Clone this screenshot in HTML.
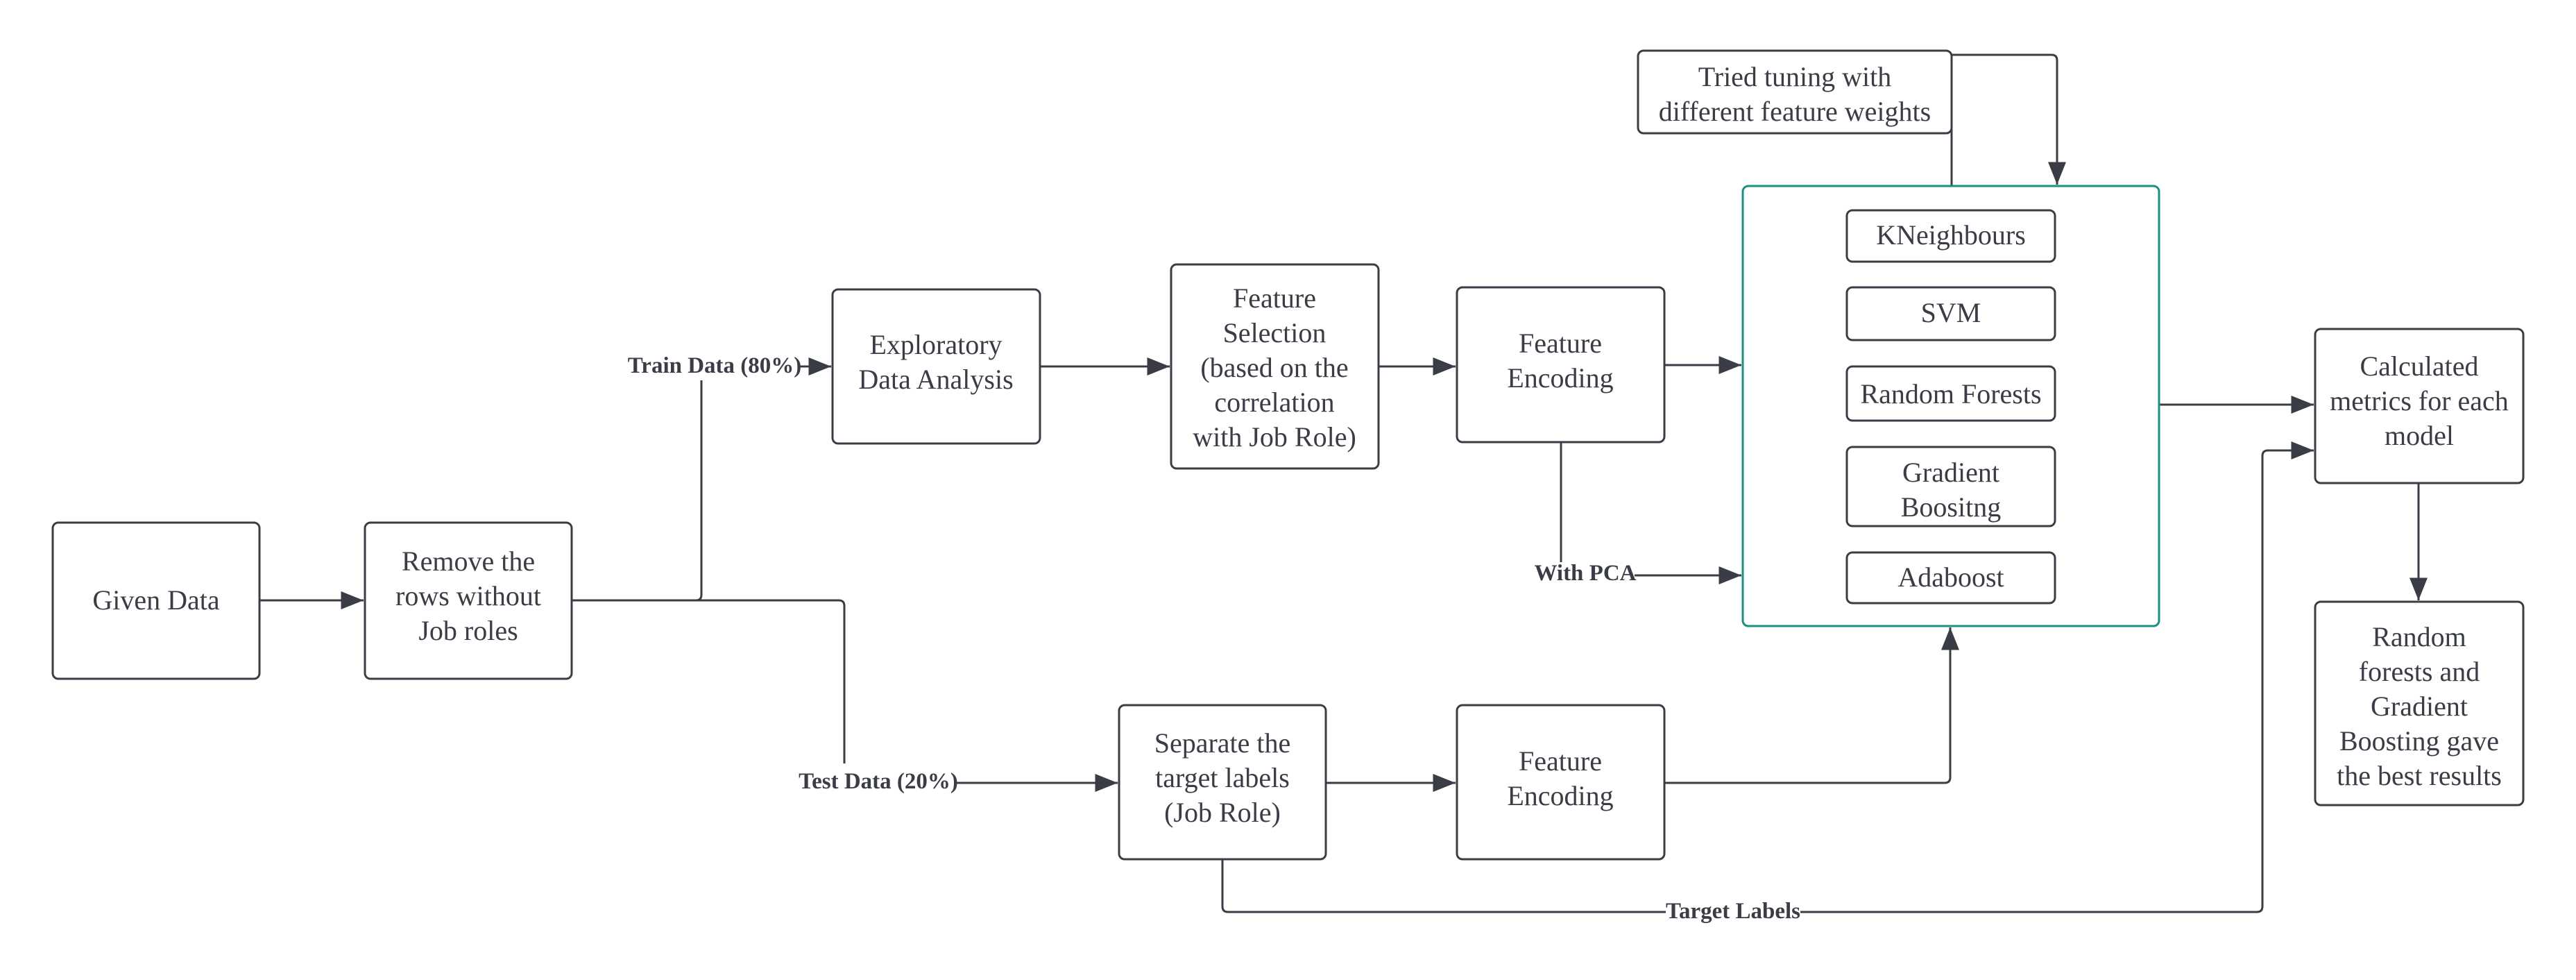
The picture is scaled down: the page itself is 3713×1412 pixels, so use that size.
<!DOCTYPE html>
<html><head><meta charset="utf-8"><style>
html,body{margin:0;padding:0;background:#fff;}
svg{display:block;}
.b{fill:#fff;stroke:#3a3d45;stroke-width:3;}
.t{font-family:"Liberation Serif",serif;font-size:40px;fill:#3a3d45;text-anchor:middle;}
.l{font-family:"Liberation Serif",serif;font-size:33px;font-weight:bold;fill:#3a3d45;text-anchor:middle;}
.c{fill:none;stroke:#3a3d45;stroke-width:3;}
</style></head><body>
<svg width="3713" height="1412" viewBox="0 0 3713 1412" xmlns="http://www.w3.org/2000/svg">
<defs>
<marker id="ah" viewBox="0 0 10 8" refX="10" refY="4" markerWidth="34" markerHeight="26" orient="auto" markerUnits="userSpaceOnUse"><path d="M0,0 L10,4 L0,8 z" fill="#3a3d45"/></marker></defs>

<path class="c" d="M374,865 H524" marker-end="url(#ah)"/>
<path class="c" d="M824,865 H1003 q8,0 8,-8 V548"/>
<path class="c" d="M1152,528 H1198" marker-end="url(#ah)"/>
<path class="c" d="M1003,865 H1209 q8,0 8,8 V1100"/>
<path class="c" d="M1378,1128 H1611" marker-end="url(#ah)"/>
<path class="c" d="M1499,528 H1686" marker-end="url(#ah)"/>
<path class="c" d="M1987,528 H2098" marker-end="url(#ah)"/>
<path class="c" d="M2399,526 H2510" marker-end="url(#ah)"/>
<path class="c" d="M2250,637 V810"/>
<path class="c" d="M2356,829 H2510" marker-end="url(#ah)"/>
<path class="c" d="M1911,1128 H2098" marker-end="url(#ah)"/>
<path class="c" d="M2399,1128 H2803 q8,0 8,-8 V904" marker-end="url(#ah)"/>
<path class="c" d="M3112,583 H3335" marker-end="url(#ah)"/>
<path class="c" d="M3486,697 V865" marker-end="url(#ah)"/>
<path class="c" d="M2813,268 V79 H2957 q8,0 8,8 V266" marker-end="url(#ah)"/>
<path class="c" d="M1762,1238 V1306 q0,8 8,8 H2401"/>
<path class="c" d="M2595,1314 H3253 q8,0 8,-8 V657 q0,-8 8,-8 H3335" marker-end="url(#ah)"/>

<rect class="b" x="76" y="753" width="298" height="225" rx="8"/>
<text class="t" x="225" y="878">Given Data</text>
<rect class="b" x="526" y="753" width="298" height="225" rx="8"/>
<text class="t" x="675" y="822">Remove the</text><text class="t" x="675" y="872">rows without</text><text class="t" x="675" y="922">Job roles</text>
<rect class="b" x="1200" y="417" width="299" height="222" rx="8"/>
<text class="t" x="1349" y="510">Exploratory</text><text class="t" x="1349" y="560">Data Analysis</text>
<rect class="b" x="1688" y="381" width="299" height="294" rx="8"/>
<text class="t" x="1837" y="443">Feature</text><text class="t" x="1837" y="493">Selection</text><text class="t" x="1837" y="543">(based on the</text><text class="t" x="1837" y="593">correlation</text><text class="t" x="1837" y="643">with Job Role)</text>
<rect class="b" x="2100" y="414" width="299" height="223" rx="8"/>
<text class="t" x="2249" y="508">Feature</text><text class="t" x="2249" y="558">Encoding</text>
<rect x="2512" y="268" width="600" height="634" rx="8" fill="none" stroke="#1a9080" stroke-width="3"/>
<rect class="b" x="2662" y="303" width="300" height="74" rx="8"/><text class="t" x="2812" y="352">KNeighbours</text>
<rect class="b" x="2662" y="414" width="300" height="76" rx="8"/><text class="t" x="2812" y="464">SVM</text>
<rect class="b" x="2662" y="528" width="300" height="78" rx="8"/><text class="t" x="2812" y="581">Random Forests</text>
<rect class="b" x="2662" y="644" width="300" height="114" rx="8"/><text class="t" x="2812" y="694">Gradient</text><text class="t" x="2812" y="744">Boositng</text>
<rect class="b" x="2662" y="796" width="300" height="73" rx="8"/><text class="t" x="2812" y="845">Adaboost</text>
<rect class="b" x="2361" y="73" width="452" height="119" rx="8"/>
<text class="t" x="2587" y="124">Tried tuning with</text><text class="t" x="2587" y="174">different feature weights</text>
<rect class="b" x="3337" y="474" width="300" height="222" rx="8"/>
<text class="t" x="3487" y="541">Calculated</text><text class="t" x="3487" y="591">metrics for each</text><text class="t" x="3487" y="641">model</text>
<rect class="b" x="3337" y="867" width="300" height="293" rx="8"/>
<text class="t" x="3487" y="931">Random</text><text class="t" x="3487" y="981">forests and</text><text class="t" x="3487" y="1031">Gradient</text><text class="t" x="3487" y="1081">Boosting gave</text><text class="t" x="3487" y="1131">the best results</text>
<rect class="b" x="1613" y="1016" width="298" height="222" rx="8"/>
<text class="t" x="1762" y="1084">Separate the</text><text class="t" x="1762" y="1134">target labels</text><text class="t" x="1762" y="1184">(Job Role)</text>
<rect class="b" x="2100" y="1016" width="299" height="222" rx="8"/>
<text class="t" x="2249" y="1110">Feature</text><text class="t" x="2249" y="1160">Encoding</text>

<text class="l" x="1030" y="537">Train Data (80%)</text>
<text class="l" x="1266" y="1136">Test Data (20%)</text>
<text class="l" x="2285" y="836">With PCA</text>
<text class="l" x="2498" y="1323">Target Labels</text>
</svg>
</body></html>
